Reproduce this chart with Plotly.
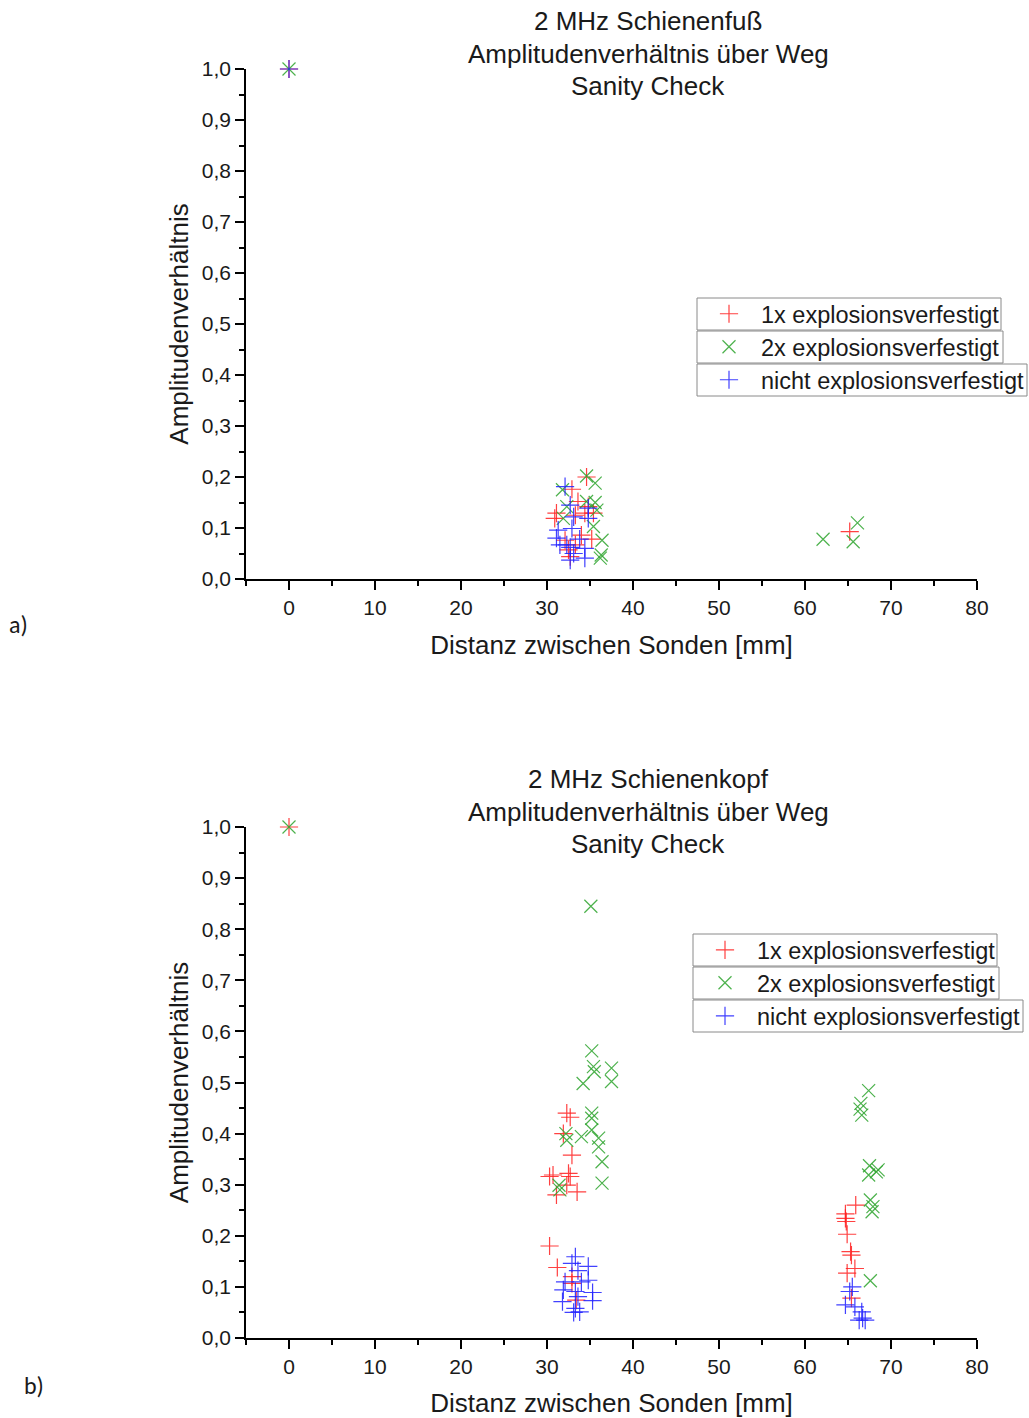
import plotly.graph_objects as go

# ---------------- data: top panel (Schienenfuß) ----------------
a_red_x = [0, 34.6, 32.9, 33.6, 34.8, 31.1, 33.3, 34.4, 35.4, 30.9, 34.0, 35.2, 32.1, 33.3, 32.5, 32.7, 65.2]
a_red_y = [1.0, 0.200, 0.176, 0.152, 0.142, 0.129, 0.125, 0.129, 0.129, 0.119, 0.086, 0.078, 0.076, 0.067, 0.057, 0.044, 0.093]

a_green_x = [0, 34.6, 35.6, 31.8, 34.6, 35.6, 32.3, 35.8, 31.9, 35.4, 36.4, 36.2, 36.3, 62.1, 66.1, 65.6]
a_green_y = [1.0, 0.202, 0.188, 0.175, 0.152, 0.150, 0.142, 0.135, 0.119, 0.103, 0.076, 0.041, 0.047, 0.078, 0.110, 0.073]

a_blue_x = [0, 32.1, 32.7, 34.8, 34.8, 33.1, 31.3, 32.9, 31.1, 33.8, 32.3, 32.7, 34.4, 33.1, 34.4, 32.7, 31.5]
a_blue_y = [1.0, 0.181, 0.145, 0.139, 0.119, 0.122, 0.096, 0.099, 0.080, 0.078, 0.067, 0.062, 0.060, 0.050, 0.041, 0.037, 0.067]

# ---------------- data: bottom panel (Schienenkopf) ----------------
b_red_x = [0, 32.3, 32.7, 31.9, 32.9, 30.7, 32.5, 32.7, 31.1, 33.5, 32.3, 30.3, 30.3, 31.2, 32.9, 32.9, 33.4,
           65.9, 64.7, 64.7, 64.8, 64.9, 65.3, 65.4, 65.8, 64.9, 65.4]
b_red_y = [1.0, 0.440, 0.432, 0.400, 0.358, 0.319, 0.322, 0.316, 0.280, 0.286, 0.299, 0.316, 0.180, 0.138, 0.120, 0.107, 0.074,
           0.260, 0.243, 0.234, 0.228, 0.203, 0.169, 0.162, 0.136, 0.127, 0.078]

b_green_x = [0, 35.1, 35.2, 35.4, 35.5, 37.5, 37.5, 34.2, 35.2, 35.2, 32.2, 32.3, 35.2, 34.0, 36.0, 36.0, 36.4, 36.4,
             31.4, 31.5, 67.4, 66.5, 66.4, 66.6, 67.5, 68.5, 67.4, 68.3, 67.6, 67.9, 67.8, 67.6]
b_green_y = [1.0, 0.845, 0.562, 0.531, 0.521, 0.528, 0.502, 0.498, 0.440, 0.430, 0.400, 0.387, 0.407, 0.394, 0.391, 0.374, 0.345, 0.303,
             0.299, 0.290, 0.484, 0.459, 0.448, 0.436, 0.337, 0.329, 0.319, 0.325, 0.270, 0.257, 0.247, 0.112]

b_blue_x = [33.3, 32.9, 33.6, 34.8, 32.1, 34.0, 34.8, 31.9, 33.3, 35.3, 33.6, 31.8, 35.3, 33.3, 33.8, 33.1,
            65.5, 65.2, 64.7, 65.8, 66.6, 66.7, 66.3, 67.0]
b_blue_y = [0.159, 0.146, 0.132, 0.140, 0.110, 0.110, 0.113, 0.094, 0.091, 0.089, 0.081, 0.071, 0.073, 0.058, 0.051, 0.050,
            0.100, 0.091, 0.065, 0.061, 0.051, 0.039, 0.035, 0.035]

series_names = ["1x explosionsverfestigt", "2x explosionsverfestigt", "nicht explosionsverfestigt"]
titles_a = ["2 MHz Schienenfuß", "Amplitudenverhältnis über Weg", "Sanity Check"]
titles_b = ["2 MHz Schienenkopf", "Amplitudenverhältnis über Weg", "Sanity Check"]
x_title = "Distanz zwischen Sonden [mm]"
y_title = "Amplitudenverhältnis"

W, H = 1029, 1418
FONT = 'Arial, "Liberation Sans", sans-serif'
RED, GREEN, BLUE = "#FF2020", "#2EA52E", "#2020FF"
TXT = "#1a1a1a"


def py(px):
    return 1 - px / H


def px_x(px):
    return px / W


fig = go.Figure()

panels = [
    (a_red_x, a_red_y, a_green_x, a_green_y, a_blue_x, a_blue_y, "x", "y", ["legend", "legend2", "legend3"]),
    (b_red_x, b_red_y, b_green_x, b_green_y, b_blue_x, b_blue_y, "x2", "y2", ["legend4", "legend5", "legend6"]),
]
for rx, ry, gx, gy, bx, by, xa, ya, legs in panels:
    for (xs, ys, col, sym, nm, lg) in [
        (rx, ry, RED, "cross-thin", series_names[0], legs[0]),
        (gx, gy, GREEN, "x-thin", series_names[1], legs[1]),
        (bx, by, BLUE, "cross-thin", series_names[2], legs[2]),
    ]:
        fig.add_trace(go.Scatter(
            x=xs, y=ys, mode="markers", name=nm, legend=lg, showlegend=True,
            xaxis=xa, yaxis=ya, cliponaxis=False,
            marker=dict(symbol=sym, size=13, color=col, opacity=0.85,
                        line=dict(color=col, width=1.2)),
        ))

xdom = [px_x(246), px_x(977)]
axis_common = dict(showline=True, linecolor="black", linewidth=1.5, showgrid=False, zeroline=False,
                   ticks="outside", ticklen=9, tickwidth=1.5, tickcolor="black", automargin=False,
                   tickfont=dict(family=FONT, size=21, color=TXT))
xminor = dict(ticks="outside", ticklen=5, tickwidth=1.5, tickcolor="black", dtick=5, tick0=0)
yminor = dict(ticks="outside", ticklen=5, tickwidth=1.5, tickcolor="black", dtick=0.05)
TFS = 26

fig.update_layout(
    width=W, height=H, margin=dict(l=0, r=0, t=0, b=0, autoexpand=False),
    paper_bgcolor="white", plot_bgcolor="white",
    separators=",.", showlegend=True,
    font=dict(family=FONT, color=TXT),
    xaxis=dict(domain=xdom, anchor="y", range=[-5, 80], tickvals=[0, 10, 20, 30, 40, 50, 60, 70, 80],
               minor=xminor, title=dict(text=x_title, font=dict(family=FONT, size=TFS), standoff=18), **axis_common),
    yaxis=dict(domain=[py(579), py(69)], anchor="x", range=[0, 1.0], dtick=0.1, tickformat=".1f",
               minor=yminor, title=dict(text=y_title, font=dict(family=FONT, size=TFS), standoff=6), **axis_common),
    xaxis2=dict(domain=xdom, anchor="y2", range=[-5, 80], tickvals=[0, 10, 20, 30, 40, 50, 60, 70, 80],
                minor=xminor, title=dict(text=x_title, font=dict(family=FONT, size=TFS), standoff=18), **axis_common),
    yaxis2=dict(domain=[py(1338), py(827)], anchor="x2", range=[0, 1.0], dtick=0.1, tickformat=".1f",
                minor=yminor, title=dict(text=y_title, font=dict(family=FONT, size=TFS), standoff=6), **axis_common),
)

# legend boxes (one box per entry, as in the reference)
boxes = {"legend": (697, 1001, 298, 330), "legend2": (697, 1003, 331, 363), "legend3": (697, 1027, 364, 396),
         "legend4": (693, 997, 934, 966), "legend5": (693, 999, 967, 999), "legend6": (693, 1023, 1000, 1032)}
leg_common = dict(xref="paper", yref="paper", xanchor="left", yanchor="middle",
                  bgcolor="rgba(0,0,0,0)", borderwidth=0, itemwidth=54, visible=True,
                  font=dict(family=FONT, size=23.5, color=TXT))
legs = {}
for k, (x0, x1, y0, y1) in boxes.items():
    fig.add_shape(type="rect", xref="paper", yref="paper", x0=px_x(x0), x1=px_x(x1), y0=py(y0), y1=py(y1),
                  line=dict(color="#8a8a8a", width=1), fillcolor="white", layer="above")
    legs[k] = dict(x=px_x(x0), y=py((y0 + y1) / 2), **leg_common)
fig.update_layout(**legs)

for lines, ys in [(titles_a, [21, 54, 86]), (titles_b, [779, 812, 844])]:
    for t, yy in zip(lines, ys):
        fig.add_annotation(text=t, xref="paper", yref="paper", x=px_x(648), y=py(yy),
                           xanchor="center", yanchor="middle", showarrow=False,
                           font=dict(family=FONT, size=TFS, color=TXT))

for lab, xx, yy in [("a)", 18, 624), ("b)", 34, 1385)]:
    fig.add_annotation(text=lab, xref="paper", yref="paper", x=px_x(xx), y=py(yy),
                       xanchor="center", yanchor="middle", showarrow=False,
                       font=dict(family='Carlito, Calibri, "Liberation Sans", sans-serif', size=24, color=TXT))

fig.write_html("out.html")
